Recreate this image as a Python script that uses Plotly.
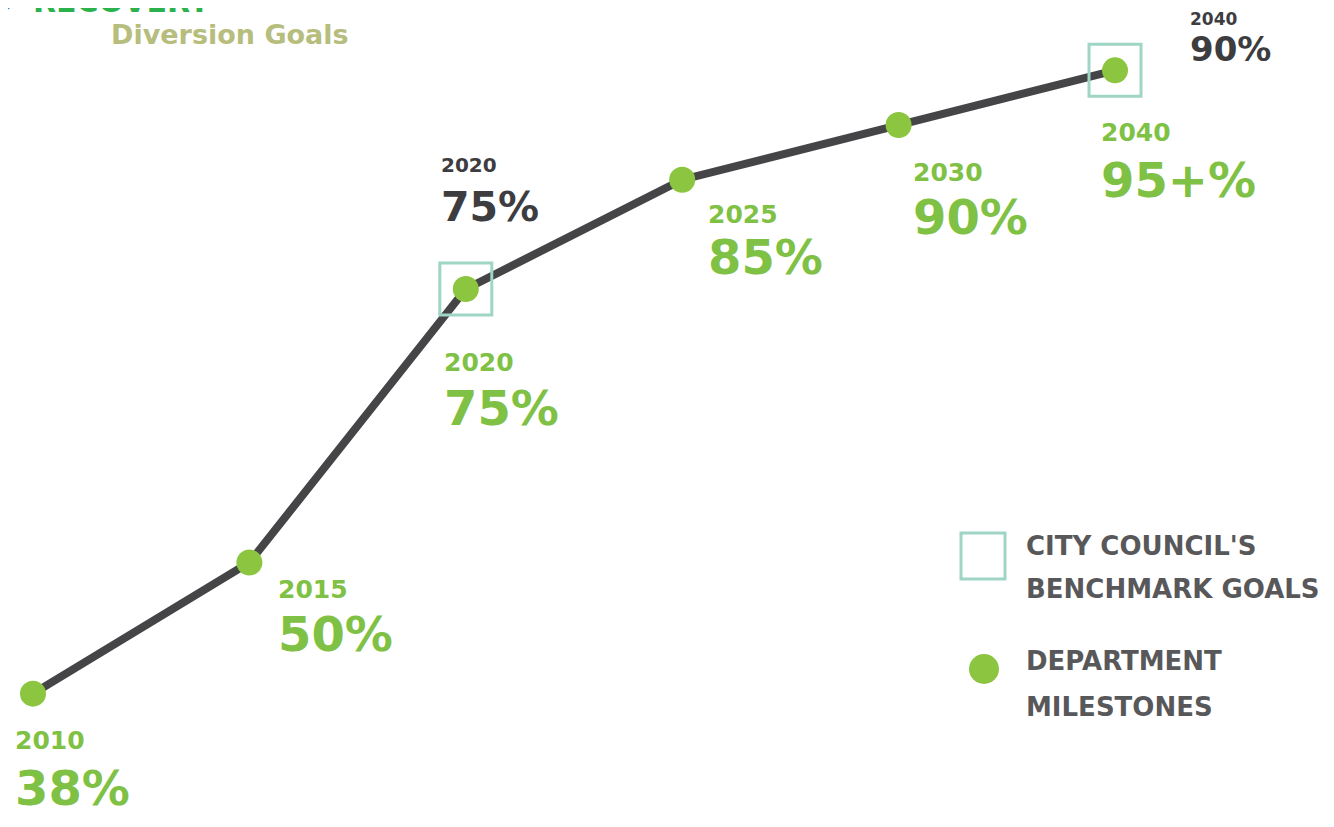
import plotly.graph_objects as go

# Department milestones (diversion rate, %)
years = ["2010", "2015", "2020", "2025", "2030", "2040"]
milestones = [38, 50, 75, 85, 90, 95]
milestone_text = ["38%", "50%", "75%", "85%", "90%", "95+%"]

# City council benchmark goals
bench_years = ["2020", "2040"]
bench_values = [75, 90]

GREEN = "#8cc540"
LABEL_GREEN = "#7fc144"
DARK = "#3d3d3f"
TEAL = "#9fd5c5"
GREY = "#58585a"
FONT = "DejaVu Sans, sans-serif"

# page body has an 8px margin, so the figure is a bit smaller than the window
W, H = 1318, 811
OFF = 8

fig = go.Figure()

fig.add_trace(go.Scatter(
    x=years, y=milestones, mode="lines",
    line=dict(color="#454547", width=8),
    hoverinfo="skip", showlegend=False
))

# benchmark squares sit on the milestone point for that year
bench_y = [milestones[years.index(y)] for y in bench_years]
fig.add_trace(go.Scatter(
    x=bench_years, y=bench_y, mode="markers",
    marker=dict(symbol="square-open", size=52, color=TEAL, line=dict(width=3, color=TEAL)),
    hoverinfo="skip", showlegend=False
))

fig.add_trace(go.Scatter(
    x=years, y=milestones, mode="markers",
    marker=dict(size=26, color=GREEN),
    showlegend=False
))

# label offsets (px) for the green milestone labels
lab_dx = [-20, 27, -24, 24, 12, -16]
lab_dy_year = [-47, -27, -73, -35, -47, -62]
lab_dy_pct = [-94, -72, -119, -77, -92, -110]

for i, yr in enumerate(years):
    fig.add_annotation(x=i, y=milestones[i], text="<b>" + yr + "</b>", showarrow=False,
                       xanchor="left", yanchor="middle", xshift=lab_dx[i], yshift=lab_dy_year[i],
                       font=dict(family=FONT, size=25, color=LABEL_GREEN))
    fig.add_annotation(x=i, y=milestones[i], text="<b>" + milestone_text[i] + "</b>", showarrow=False,
                       xanchor="left", yanchor="middle", xshift=lab_dx[i], yshift=lab_dy_pct[i],
                       font=dict(family=FONT, size=48, color=LABEL_GREEN))

# dark benchmark labels
b_dx = [-27, 73]
b_dy_year = [124, 51]
b_dy_pct = [82, 21]
b_size_year = [20, 17]
b_size_pct = [41, 34]
for i, yr in enumerate(bench_years):
    fig.add_annotation(x=years.index(yr), y=bench_y[i], text="<b>" + yr + "</b>", showarrow=False,
                       xanchor="left", yanchor="middle", xshift=b_dx[i], yshift=b_dy_year[i],
                       font=dict(family=FONT, size=b_size_year[i], color=DARK))
    fig.add_annotation(x=years.index(yr), y=bench_y[i], text="<b>" + str(bench_values[i]) + "%</b>",
                       showarrow=False, xanchor="left", yanchor="middle",
                       xshift=b_dx[i], yshift=b_dy_pct[i],
                       font=dict(family=FONT, size=b_size_pct[i], color=DARK))


def px(x):
    return (x - OFF) / W

def py(y):
    return 1 - (y - OFF) / H

# legend
fig.add_shape(type="rect", xref="paper", yref="paper",
              x0=px(961), x1=px(1005), y0=py(579), y1=py(533),
              line=dict(color=TEAL, width=3))
fig.add_shape(type="circle", xref="paper", yref="paper",
              x0=px(969), x1=px(999), y0=py(684), y1=py(654),
              fillcolor=GREEN, line=dict(width=0))
for txt, yy in [("CITY COUNCIL'S", 546), ("BENCHMARK GOALS", 589), ("DEPARTMENT", 661), ("MILESTONES", 707)]:
    fig.add_annotation(xref="paper", yref="paper", x=px(1024), y=py(yy), text="<b>" + txt + "</b>",
                       showarrow=False, xanchor="left", yanchor="middle",
                       font=dict(family=FONT, size=26, color=GREY))

# heading
fig.add_annotation(xref="paper", yref="paper", x=px(109), y=py(35), text="<b>Diversion Goals</b>",
                   showarrow=False, xanchor="left", yanchor="middle",
                   font=dict(family=FONT, size=27, color="#b6bd7d"))
fig.add_annotation(xref="paper", yref="paper", x=px(31), y=py(21), text="<b>RECOVERY</b>",
                   showarrow=False, xanchor="left", yanchor="bottom",
                   font=dict(family=FONT, size=30, color="#2bb24c"))
fig.add_shape(type="circle", xref="paper", yref="paper",
              x0=px(-30), x1=px(20), y0=py(12), y1=py(-40),
              line=dict(color="#2a8fd0", width=2))

fig.update_layout(
    width=W, height=H,
    margin=dict(l=0, r=0, t=0, b=0),
    paper_bgcolor="white", plot_bgcolor="white",
    xaxis=dict(type="category", categoryorder="array", categoryarray=years,
               range=[-0.1155, 5.975], visible=False),
    yaxis=dict(range=[26.54, 100.70], visible=False),
)

fig.write_html("out.html")
